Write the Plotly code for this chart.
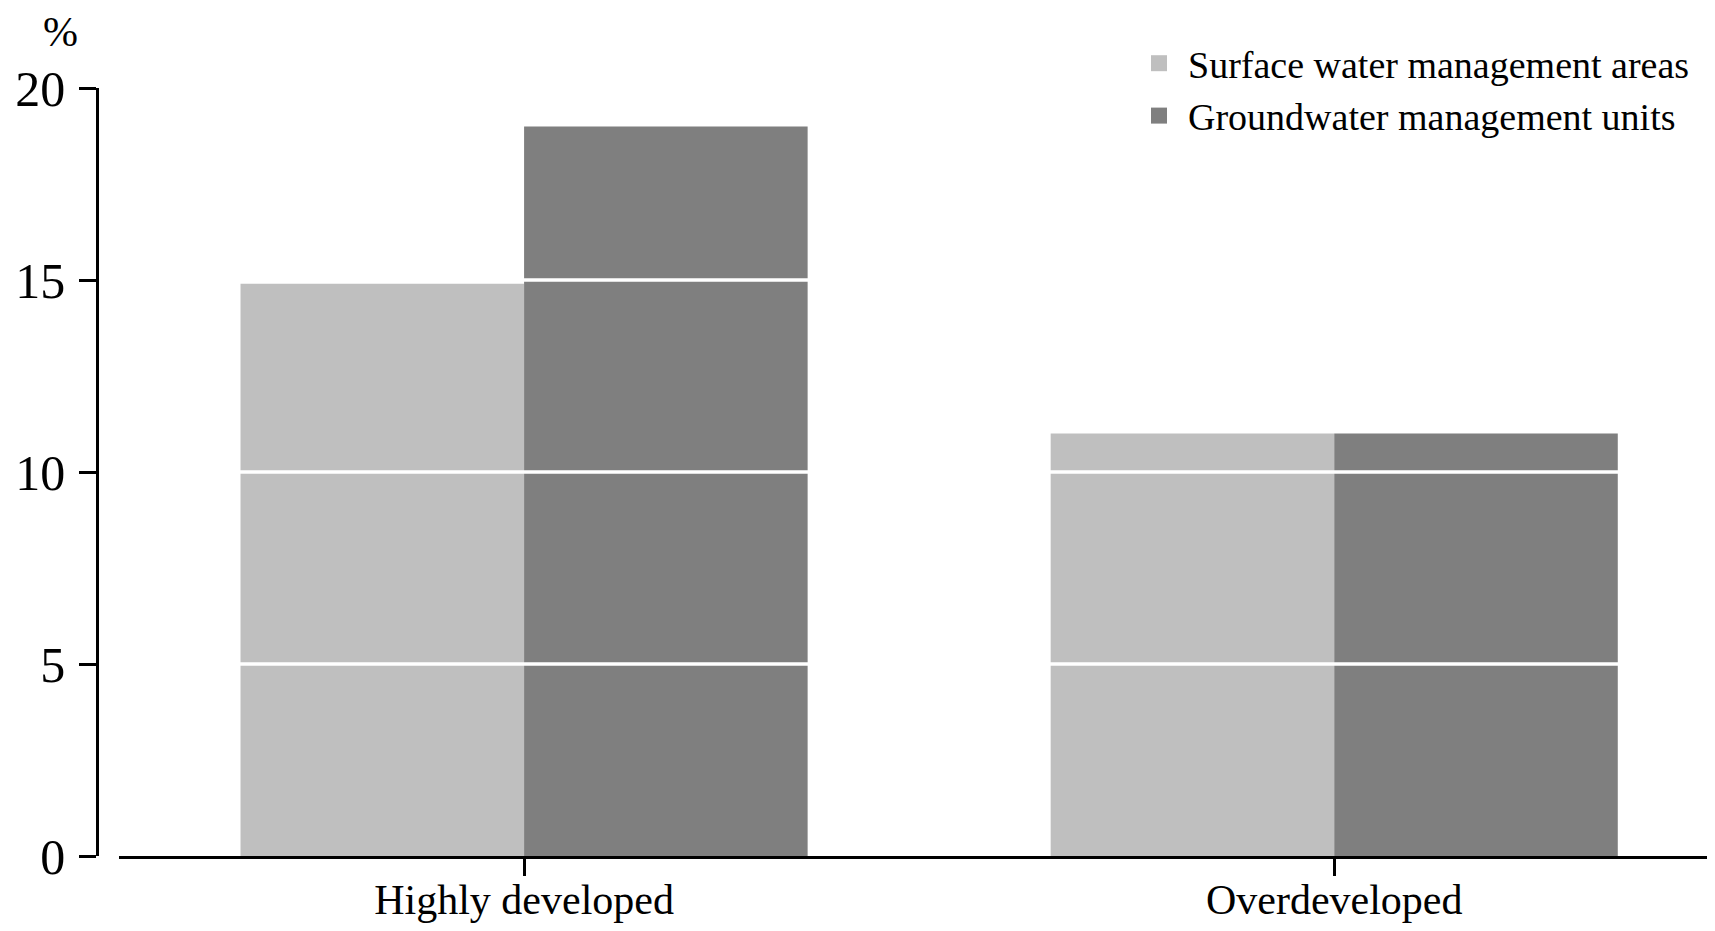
import plotly.graph_objects as go

categories = ["Highly developed", "Overdeveloped"]
surface_water = [14.9, 11.0]
groundwater = [19.0, 11.0]
series_names = ["Surface water management areas", "Groundwater management units"]
series_colors = ["#bfbfbf", "#7f7f7f"]
y_ticks = [0, 5, 10, 15, 20]
grid_values = [5, 10, 15]

W, H = 1707, 923
FONT = "Liberation Serif, Times New Roman, serif"

fig = go.Figure()
for name, vals, col in zip(series_names, [surface_water, groundwater], series_colors):
    fig.add_trace(go.Bar(name=name, x=categories, y=vals, legendgroup=name, showlegend=False,
                         marker=dict(color=col, line=dict(width=0))))
    fig.add_trace(go.Scatter(name=name, x=[None], y=[None], mode="markers", legendgroup=name,
                             marker=dict(symbol="square", size=16, color=col), showlegend=True))

for g in grid_values:
    fig.add_shape(type="line", xref="paper", x0=0.07, x1=1, yref="y", y0=g, y1=g,
                  line=dict(color="white", width=3.5), layer="above")

fig.add_annotation(text="%", xref="paper", yref="paper", x=52 / W, y=1,
                   showarrow=False, font=dict(family=FONT, size=42, color="black"),
                   xanchor="center", yanchor="top", borderpad=0)

fig.update_layout(
    width=W, height=H,
    margin=dict(l=0, r=0, t=0, b=0, autoexpand=False),
    paper_bgcolor="white", plot_bgcolor="white",
    barmode="group", bargap=0.3, bargroupgap=0,
    font=dict(family=FONT, color="black"),
    showlegend=True,
    legend=dict(x=1122 / W, y=1 - 24 / H, xanchor="left", yanchor="top",
                font=dict(family=FONT, size=38, color="black"), itemsizing="trace",
                bgcolor="rgba(0,0,0,0)", itemwidth=48, tracegroupgap=0),
    xaxis=dict(domain=[111 / W, 1], range=[-0.5, 1.47], showline=True, linecolor="black",
               linewidth=3, ticks="outside", ticklen=17, tickwidth=2.5, tickcolor="black",
               automargin=False, showgrid=False, zeroline=False,
               tickfont=dict(family=FONT, size=42, color="black")),
    yaxis=dict(domain=[(H - 848) / H, (H - 80) / H], range=[0, 20], anchor="free",
               position=89 / W, showline=True, linecolor="black", linewidth=2.5,
               ticks="outside", ticklen=17, tickwidth=2.5, tickcolor="black",
               tickvals=y_ticks, ticktext=[str(v) for v in y_ticks],
               automargin=False, showgrid=False, zeroline=False,
               tickfont=dict(family=FONT, size=50, color="black")),
)
try:
    fig.update_yaxes(ticklabelstandoff=4)
except Exception:
    pass
try:
    fig.update_xaxes(ticklabelstandoff=-12)
except Exception:
    pass

fig.write_html("out.html")
